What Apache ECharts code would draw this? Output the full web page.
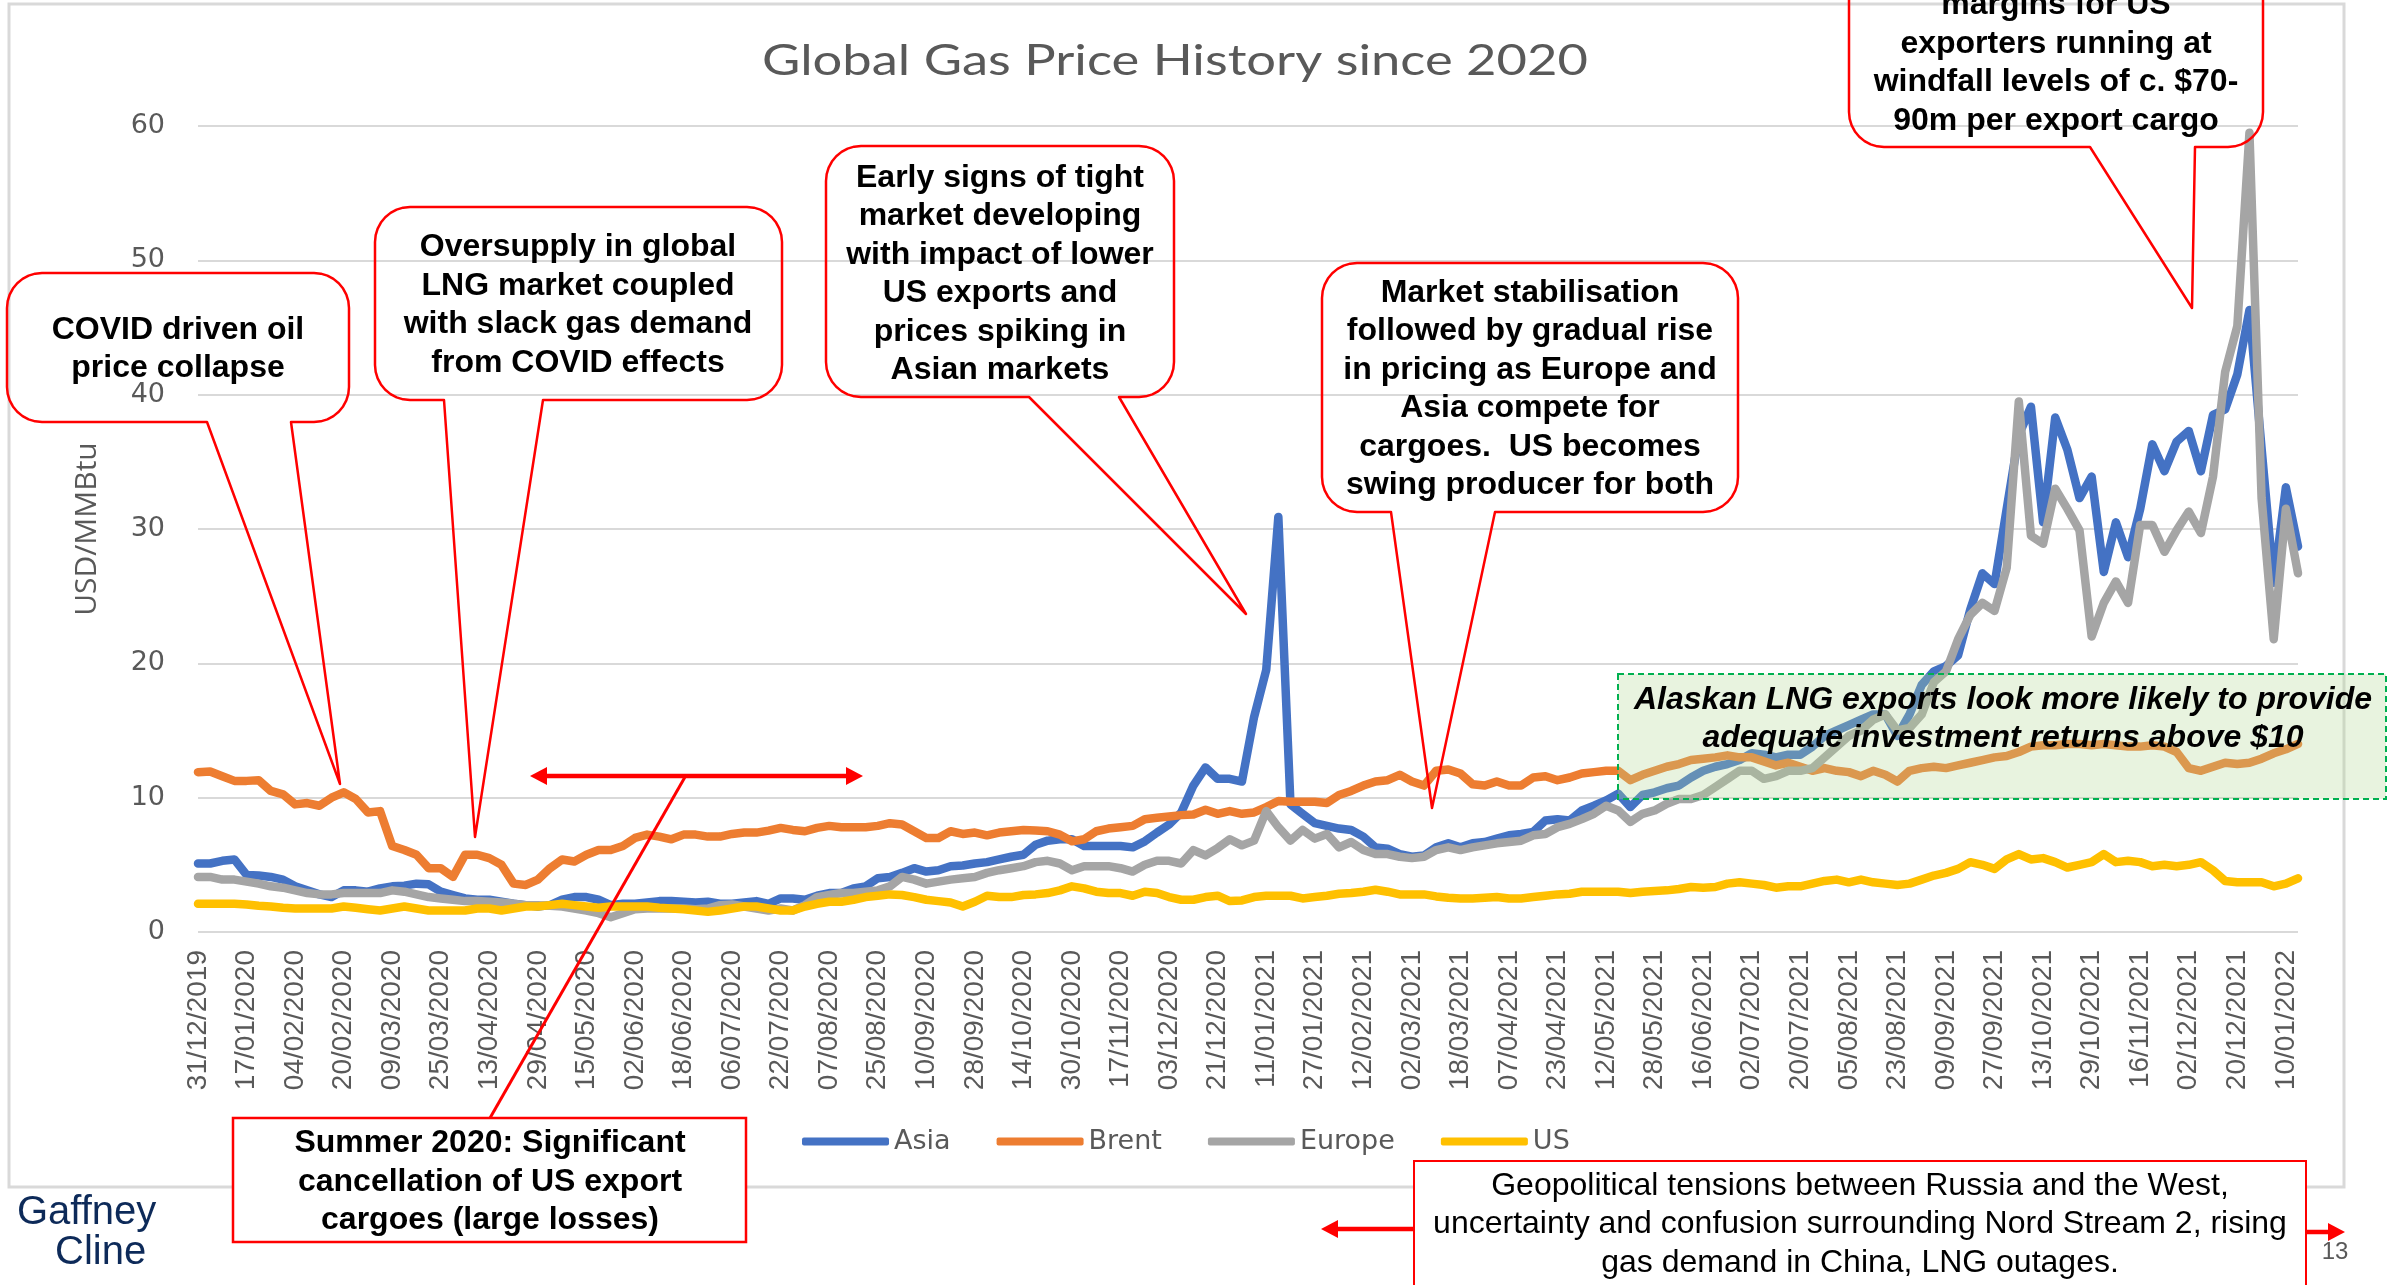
<!DOCTYPE html>
<html>
<head>
<meta charset="utf-8">
<title>Global Gas Price History since 2020</title>
<script src="https://cdn.jsdelivr.net/npm/echarts@6.0.0/dist/echarts.min.js"></script>
<style>
  html, body { margin: 0; padding: 0; background: #fff; }
  #chart { width: 2399px; height: 1285px; }
</style>
</head>
<body>
<div id="chart"></div>
<script>
// one sample every 3 trading days, labels every 12 trading days
var STEP = 3;
var LAST_DAY = 519;

var tickLabels = ['31/12/2019', '17/01/2020', '04/02/2020', '20/02/2020', '09/03/2020', '25/03/2020',
  '13/04/2020', '29/04/2020', '15/05/2020', '02/06/2020', '18/06/2020', '06/07/2020', '22/07/2020',
  '07/08/2020', '25/08/2020', '10/09/2020', '28/09/2020', '14/10/2020', '30/10/2020', '17/11/2020',
  '03/12/2020', '21/12/2020', '11/01/2021', '27/01/2021', '12/02/2021', '02/03/2021', '18/03/2021',
  '07/04/2021', '23/04/2021', '12/05/2021', '28/05/2021', '16/06/2021', '02/07/2021', '20/07/2021',
  '05/08/2021', '23/08/2021', '09/09/2021', '27/09/2021', '13/10/2021', '29/10/2021', '16/11/2021',
  '02/12/2021', '20/12/2021', '10/01/2022'];

var seriesNames = ['Asia', 'Brent', 'Europe', 'US'];

var asia = [
  5.1, 5.1, 5.3, 5.4, 4.25, 4.2, 4.1, 3.9, 3.4, 3.1, 2.8, 2.6,
  3.1, 3.1, 3.0, 3.25, 3.4, 3.45, 3.6, 3.55, 3.0, 2.75, 2.5, 2.4,
  2.4, 2.25, 2.1, 2.0, 1.9, 2.0, 2.4, 2.6, 2.6, 2.4, 2.0, 2.1,
  2.1, 2.2, 2.3, 2.3, 2.25, 2.2, 2.25, 2.1, 2.1, 2.2, 2.3, 2.1,
  2.5, 2.5, 2.4, 2.7, 2.9, 2.9, 3.25, 3.4, 4.0, 4.1, 4.4, 4.75,
  4.5, 4.6, 4.9, 4.95, 5.1, 5.2, 5.4, 5.6, 5.75, 6.5, 6.8, 6.9,
  6.9, 6.4, 6.4, 6.4, 6.4, 6.3, 6.75, 7.4, 8.0, 8.9, 10.9, 12.25,
  11.4, 11.4, 11.2, 16.0, 19.5, 30.9, 9.5, 8.8, 8.1, 7.9, 7.7, 7.6,
  7.1, 6.3, 6.2, 5.8, 5.6, 5.7, 6.3, 6.6, 6.3, 6.6, 6.7, 6.95,
  7.2, 7.3, 7.45, 8.3, 8.4, 8.3, 9.05, 9.4, 9.8, 10.3, 9.3, 10.2,
  10.4, 10.7, 10.9, 11.5, 12.0, 12.3, 12.5, 12.8, 13.3, 13.2, 13.0, 13.2,
  13.2, 13.8, 14.6, 15.0, 15.4, 15.8, 16.2, 16.2, 14.6, 16.2, 18.4, 19.4,
  19.8, 20.6, 24.0, 26.7, 25.9, 31.5, 37.0, 39.1, 30.5, 38.3, 35.9, 32.3,
  33.9, 26.8, 30.5, 27.9, 31.5, 36.3, 34.3, 36.5, 37.3, 34.3, 38.5, 38.9,
  41.5, 46.3, 36.0, 26.0, 33.1, 28.7
];

var brent = [
  11.9, 11.95, 11.6, 11.25, 11.25, 11.3, 10.5, 10.25, 9.5, 9.6, 9.4, 10.0,
  10.4, 9.9, 8.9, 9.0, 6.4, 6.1, 5.75, 4.75, 4.75, 4.1, 5.75, 5.75,
  5.5, 5.0, 3.6, 3.5, 3.9, 4.75, 5.4, 5.25, 5.75, 6.1, 6.1, 6.4,
  7.0, 7.25, 7.1, 6.9, 7.25, 7.25, 7.1, 7.1, 7.3, 7.4, 7.4, 7.55,
  7.75, 7.6, 7.5, 7.75, 7.9, 7.8, 7.8, 7.8, 7.9, 8.1, 8.0, 7.5,
  7.0, 7.0, 7.5, 7.3, 7.4, 7.2, 7.4, 7.5, 7.6, 7.55, 7.5, 7.25,
  6.75, 6.9, 7.5, 7.7, 7.8, 7.9, 8.4, 8.5, 8.6, 8.7, 8.75, 9.1,
  8.8, 9.0, 8.8, 8.9, 9.3, 9.75, 9.7, 9.7, 9.7, 9.6, 10.2, 10.5,
  10.9, 11.2, 11.3, 11.7, 11.2, 10.9, 12.0, 12.1, 11.8, 11.0, 10.9, 11.2,
  10.9, 10.9, 11.5, 11.6, 11.3, 11.5, 11.8, 11.9, 12.0, 12.0, 11.3, 11.7,
  12.0, 12.3, 12.5, 12.8, 12.9, 13.0, 13.15, 13.0, 13.0, 12.7, 12.4, 12.6,
  12.3, 12.0, 12.2, 12.0, 11.9, 11.6, 12.0, 11.7, 11.2, 12.0, 12.2, 12.3,
  12.2, 12.4, 12.6, 12.8, 13.0, 13.1, 13.4, 13.8, 13.9, 13.9, 14.0, 14.0,
  13.9, 14.0, 13.9, 13.8, 13.8, 13.9, 13.8, 13.4, 12.2, 12.0, 12.3, 12.6,
  12.5, 12.6, 12.9, 13.3, 13.6, 14.0
];

var europe = [
  4.1, 4.1, 3.9, 3.9, 3.75, 3.6, 3.4, 3.3, 3.1, 2.9, 2.8, 2.8,
  2.9, 2.9, 2.9, 2.9, 3.1, 3.0, 2.8, 2.6, 2.5, 2.4, 2.3, 2.3,
  2.25, 2.2, 2.1, 2.0, 2.0, 1.95, 1.9, 1.75, 1.6, 1.4, 1.1, 1.4,
  1.7, 1.75, 1.75, 1.75, 1.75, 1.7, 1.75, 2.0, 2.05, 1.9, 1.75, 1.6,
  1.75, 1.6, 2.0, 2.6, 2.75, 2.9, 2.9, 3.0, 3.1, 3.4, 4.1, 3.9,
  3.6, 3.75, 3.9, 4.0, 4.1, 4.4, 4.6, 4.75, 4.9, 5.2, 5.3, 5.1,
  4.6, 4.9, 4.9, 4.9, 4.75, 4.5, 5.0, 5.3, 5.3, 5.1, 6.1, 5.7,
  6.25, 6.9, 6.45, 6.8, 9.0, 7.8, 6.8, 7.6, 6.95, 7.3, 6.3, 6.7,
  6.1, 5.8, 5.8, 5.6, 5.5, 5.6, 6.1, 6.3, 6.1, 6.3, 6.45, 6.6,
  6.7, 6.8, 7.2, 7.3, 7.8, 8.05, 8.4, 8.8, 9.4, 9.05, 8.2, 8.8,
  9.05, 9.55, 9.9, 9.9, 10.2, 10.8, 11.4, 12.0, 12.0, 11.4, 11.6, 12.0,
  12.0, 12.2, 13.0, 13.8, 14.6, 15.0, 15.8, 16.2, 15.0, 15.2, 16.2, 18.6,
  19.4, 21.8, 23.6, 24.5, 23.9, 27.1, 39.5, 29.5, 28.9, 33.0, 31.5, 29.9,
  22.0, 24.5, 26.1, 24.5, 30.3, 30.3, 28.3, 29.9, 31.3, 29.7, 33.9, 41.7,
  45.1, 59.5, 32.3, 21.8, 31.5, 26.7
];

var us = [
  2.1, 2.1, 2.1, 2.1, 2.05, 1.95, 1.9, 1.8, 1.75, 1.75, 1.75, 1.75,
  1.9, 1.8, 1.7, 1.6, 1.75, 1.9, 1.75, 1.6, 1.6, 1.6, 1.6, 1.75,
  1.75, 1.6, 1.75, 1.9, 1.9, 2.0, 2.1, 2.0, 1.9, 1.8, 1.9, 1.9,
  1.9, 1.9, 1.8, 1.75, 1.7, 1.6, 1.5, 1.6, 1.75, 1.9, 1.9, 1.75,
  1.6, 1.6, 1.9, 2.1, 2.25, 2.25, 2.4, 2.6, 2.7, 2.8, 2.75, 2.6,
  2.4, 2.3, 2.2, 1.9, 2.25, 2.7, 2.6, 2.6, 2.75, 2.8, 2.9, 3.1,
  3.4, 3.25, 3.0, 2.9, 2.9, 2.7, 3.0, 2.9, 2.6, 2.4, 2.4, 2.6,
  2.7, 2.3, 2.35, 2.6, 2.7, 2.7, 2.7, 2.5, 2.6, 2.7, 2.85, 2.9,
  3.0, 3.15, 3.0, 2.8, 2.8, 2.8, 2.65, 2.55, 2.5, 2.5, 2.55, 2.6,
  2.5, 2.5, 2.6, 2.7, 2.8, 2.85, 3.0, 3.0, 3.0, 3.0, 2.9, 3.0,
  3.05, 3.1, 3.2, 3.35, 3.3, 3.35, 3.6, 3.7, 3.6, 3.5, 3.3, 3.4,
  3.4, 3.6, 3.8, 3.9, 3.7, 3.9, 3.7, 3.6, 3.5, 3.6, 3.9, 4.2,
  4.4, 4.7, 5.2, 5.0, 4.7, 5.4, 5.8, 5.4, 5.5, 5.2, 4.8, 5.0,
  5.2, 5.8, 5.2, 5.3, 5.2, 4.9, 5.0, 4.9, 5.0, 5.2, 4.6, 3.8,
  3.7, 3.7, 3.7, 3.4, 3.6, 4.0
];

var chart = echarts.init(document.getElementById('chart'));

// [trading day, value] pairs for the value x axis
function toPoints(values) {
  return values.map(function (v, i) { return [i * STEP, v]; });
}

// rounded speech bubble outline, wedge on the bottom edge
function bubble(x, y, w, h, r, b1, b2, tip) {
  var pts = [];
  function arc(cx, cy, a0, a1) {
    for (var k = 0; k <= 8; k++) {
      var a = a0 + (a1 - a0) * k / 8;
      pts.push([cx + r * Math.cos(a), cy + r * Math.sin(a)]);
    }
  }
  arc(x + r, y + r, Math.PI, 1.5 * Math.PI);
  arc(x + w - r, y + r, 1.5 * Math.PI, 2 * Math.PI);
  arc(x + w - r, y + h - r, 0, 0.5 * Math.PI);
  pts.push([b2, y + h], tip, [b1, y + h]);
  arc(x + r, y + h - r, 0.5 * Math.PI, Math.PI);
  return pts;
}

function arrowHead(x, y, dir) {
  return {
    type: 'polygon', z: 20,
    shape: { points: [[x, y], [x - dir * 17, y - 9], [x - dir * 17, y + 9]] },
    style: { fill: '#ff0000' }
  };
}

// callouts: box x, y, w, h, wedge base, tip, text centre
var notes = [
  { box: [7, 273, 342, 149], base: [207, 291], tip: [340, 784], at: [178, 349],
    text: 'COVID driven oil\nprice collapse' },
  { box: [375, 207, 407, 193], base: [444, 543], tip: [475, 837], at: [578, 305],
    text: 'Oversupply in global\nLNG market coupled\nwith slack gas demand\nfrom COVID effects' },
  { box: [826, 146, 348, 251], base: [1029, 1119], tip: [1246, 614], at: [1000, 274],
    text: 'Early signs of tight\nmarket developing\nwith impact of lower\nUS exports and\nprices spiking in\nAsian markets' },
  { box: [1322, 263, 416, 249], base: [1391, 1495], tip: [1432, 808], at: [1530, 389],
    text: 'Market stabilisation\nfollowed by gradual rise\nin pricing as Europe and\nAsia compete for\ncargoes.  US becomes\nswing producer for both' },
  { box: [1849, -100, 414, 247], base: [2090, 2195], tip: [2192, 308], at: [2056, 63],
    text: 'margins for US\nexporters running at\nwindfall levels of c. $70-\n90m per export cargo' }
];

var boldText = { fontFamily: 'Liberation Sans', fontSize: 32, fontWeight: 'bold', fill: '#000',
  align: 'center', verticalAlign: 'middle', lineHeight: 38.5 };

var graphics = [
  // chart area frame
  { type: 'rect', z: 1, shape: { x: 9, y: 4, width: 2335, height: 1183 },
    style: { fill: 'none', stroke: '#d9d9d9', lineWidth: 3 } },
  // title
  { type: 'text', z: 5, x: 1175, y: 61, scaleX: 1.25,
    style: { text: 'Global Gas Price History since 2020', fontFamily: 'Lato', fontSize: 42,
      fill: '#595959', align: 'center', verticalAlign: 'middle' } },
  // green box
  { type: 'rect', z: 10, shape: { x: 1618, y: 674, width: 768, height: 125 },
    style: { fill: 'rgba(178,215,148,0.3)', stroke: '#00b050', lineWidth: 2, lineDash: [6, 4] } },
  { type: 'text', z: 11, x: 2003, y: 719,
    style: echarts.util.extend(echarts.util.extend({}, boldText), {
      text: 'Alaskan LNG exports look more likely to provide\nadequate investment returns above $10',
      fontStyle: 'italic', lineHeight: 38 }) }
];

notes.forEach(function (n) {
  graphics.push({
    type: 'polygon', z: 12,
    shape: { points: bubble(n.box[0], n.box[1], n.box[2], n.box[3], 35, n.base[0], n.base[1], n.tip) },
    style: { fill: 'none', stroke: '#ff0000', lineWidth: 2.5, lineJoin: 'round' }
  });
  graphics.push({
    type: 'text', z: 13, x: n.at[0], y: n.at[1],
    style: echarts.util.extend({ text: n.text }, boldText)
  });
});

// summer 2020 note with double arrow
graphics.push(
  { type: 'line', z: 20, shape: { x1: 545, y1: 776, x2: 848, y2: 776 },
    style: { stroke: '#ff0000', lineWidth: 4.5 } },
  arrowHead(530, 776, -1),
  arrowHead(863, 776, 1),
  { type: 'line', z: 20, shape: { x1: 490, y1: 1118, x2: 685, y2: 777 },
    style: { stroke: '#ff0000', lineWidth: 3 } },
  { type: 'rect', z: 21, shape: { x: 233, y: 1118, width: 513, height: 124 },
    style: { fill: '#fff', stroke: '#ff0000', lineWidth: 2.5 } },
  { type: 'text', z: 22, x: 490, y: 1182,
    style: echarts.util.extend({ text: 'Summer 2020: Significant\ncancellation of US export\ncargoes (large losses)', lineHeight: 39 }, boldText) }
);

// geopolitical note with arrows
graphics.push(
  { type: 'rect', z: 21, shape: { x: 1414, y: 1161, width: 892, height: 130 },
    style: { fill: '#fff', stroke: '#ff0000', lineWidth: 2 } },
  { type: 'text', z: 22, x: 1860, y: 1224.5,
    style: { text: 'Geopolitical tensions between Russia and the West,\nuncertainty and confusion surrounding Nord Stream 2, rising\ngas demand in China, LNG outages.',
      fontFamily: 'Liberation Sans', fontSize: 32, fill: '#000', align: 'center', verticalAlign: 'middle', lineHeight: 38.5 } },
  { type: 'line', z: 20, shape: { x1: 1414, y1: 1229, x2: 1336, y2: 1229 },
    style: { stroke: '#ff0000', lineWidth: 4.5 } },
  arrowHead(1321, 1229, -1),
  { type: 'line', z: 20, shape: { x1: 2306, y1: 1232, x2: 2330, y2: 1232 },
    style: { stroke: '#ff0000', lineWidth: 4.5 } },
  arrowHead(2345, 1232, 1)
);

// logo and page number
graphics.push(
  { type: 'text', z: 5, x: 17, y: 1213,
    style: { text: 'Gaffney', fontFamily: 'Liberation Sans', fontSize: 40, fill: '#0d2a59', align: 'left', verticalAlign: 'middle' } },
  { type: 'text', z: 5, x: 55, y: 1253,
    style: { text: 'Cline', fontFamily: 'Liberation Sans', fontSize: 40, fill: '#0d2a59', align: 'left', verticalAlign: 'middle' } },
  { type: 'text', z: 5, x: 2335, y: 1252,
    style: { text: '13', fontFamily: 'Liberation Sans', fontSize: 24, fill: '#595959', align: 'center', verticalAlign: 'middle' } }
);

var lineSeries = [asia, brent, europe, us].map(function (values, i) {
  return {
    name: seriesNames[i],
    type: 'line',
    data: toPoints(values),
    showSymbol: false,
    symbol: 'none',
    silent: true,
    lineStyle: { width: 8.5, cap: 'round', join: 'round' }
  };
});

var option = {
  animation: false,
  color: ['#4472C4', '#ED7D31', '#A5A5A5', '#FFC000'],
  grid: { left: 198, right: 101, top: 126, bottom: 353, containLabel: false, outerBoundsMode: 'none' },
  legend: {
    data: seriesNames,
    left: 797,
    top: 1123,
    icon: 'roundRect',
    itemWidth: 87,
    itemHeight: 8,
    itemGap: 46,
    textStyle: { fontFamily: 'DejaVu Sans', fontSize: 27, color: '#595959' }
  },
  xAxis: {
    type: 'value',
    min: 0,
    max: LAST_DAY,
    interval: 12,
    axisLine: { show: false },
    axisTick: { show: false },
    splitLine: { show: false },
    axisLabel: {
      rotate: 90,
      margin: 18,
      fontFamily: 'Liberation Sans',
      fontSize: 28,
      color: '#595959',
      formatter: function (v) {
        var k = v / 12;
        return (k === Math.round(k) && tickLabels[k]) ? tickLabels[k] : '';
      }
    }
  },
  yAxis: {
    type: 'value',
    min: 0,
    max: 60,
    interval: 10,
    name: 'USD/MMBtu',
    nameLocation: 'middle',
    nameGap: 96,
    nameTextStyle: { fontFamily: 'Open Sans', fontSize: 30, color: '#595959' },
    axisLine: { show: false },
    axisTick: { show: false },
    splitLine: { lineStyle: { color: '#d9d9d9', width: 2 } },
    axisLabel: { margin: 33, fontFamily: 'DejaVu Sans', fontSize: 27, color: '#595959' }
  },
  series: lineSeries,
  graphic: { elements: graphics }
};

chart.setOption(option);
</script>
</body>
</html>
